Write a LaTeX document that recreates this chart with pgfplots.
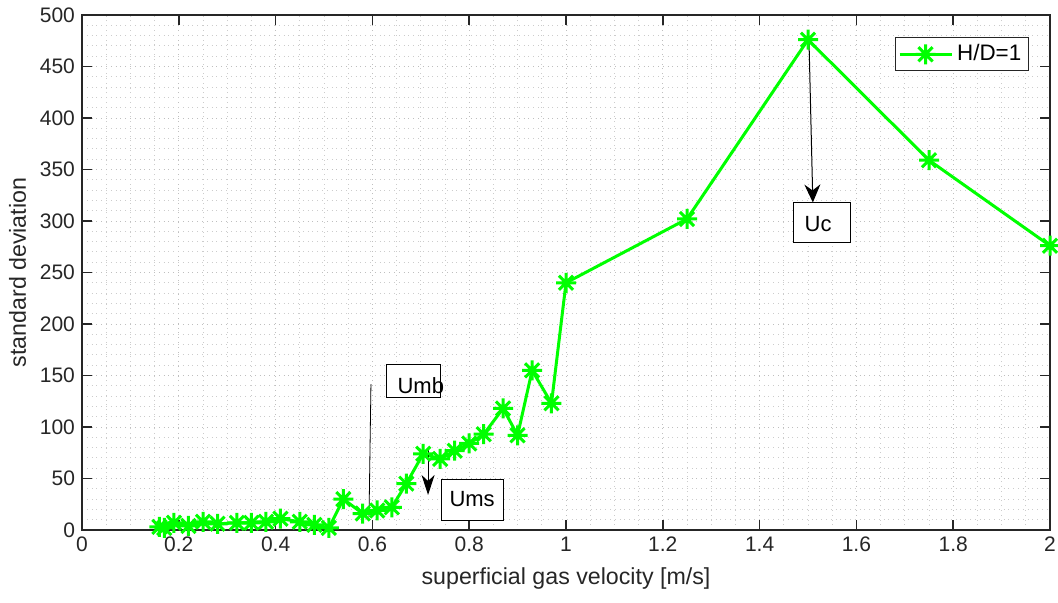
\documentclass[border=0pt]{standalone}
\usepackage{pgfplots}
\pgfplotsset{compat=1.18}
\usepackage{fontspec}
\setmainfont{Liberation Sans}
\usetikzlibrary{arrows.meta}
\definecolor{mgreen}{RGB}{0,255,0}
\definecolor{axgray}{RGB}{38,38,38}

% MATLAB-like asterisk: + and x together
\pgfdeclareplotmark{mstar}{%
  \pgfpathmoveto{\pgfqpoint{-\pgfplotmarksize}{0pt}}%
  \pgfpathlineto{\pgfqpoint{\pgfplotmarksize}{0pt}}%
  \pgfpathmoveto{\pgfqpoint{0pt}{-\pgfplotmarksize}}%
  \pgfpathlineto{\pgfqpoint{0pt}{\pgfplotmarksize}}%
  \pgfpathmoveto{\pgfqpoint{-0.707\pgfplotmarksize}{-0.707\pgfplotmarksize}}%
  \pgfpathlineto{\pgfqpoint{0.707\pgfplotmarksize}{0.707\pgfplotmarksize}}%
  \pgfpathmoveto{\pgfqpoint{-0.707\pgfplotmarksize}{0.707\pgfplotmarksize}}%
  \pgfpathlineto{\pgfqpoint{0.707\pgfplotmarksize}{-0.707\pgfplotmarksize}}%
  \pgfusepathqstroke}

\pgfplotstableread{
x y
0.16 3
0.17 2
0.19 7
0.22 4
0.25 8
0.28 6
0.32 7
0.35 7
0.38 8
0.41 11
0.45 8
0.48 5
0.51 2
0.54 30
0.58 16
0.61 19
0.64 22
0.67 45
0.705 74
0.74 69
0.77 77
0.80 84
0.83 93
0.87 118
0.90 92
0.93 155
0.97 123
1.00 240
1.25 302
1.50 476
1.75 359
2.00 276
}\sdtable

\begin{document}
\begin{tikzpicture}
\useasboundingbox (-41pt,-36pt) rectangle (488pt,265pt);
\begin{axis}[
    width=484pt, height=257.5pt, scale only axis,
    xmin=0, xmax=2, ymin=0, ymax=500,
    xtick={0,0.2,0.4,0.6,0.8,1,1.2,1.4,1.6,1.8,2},
    xticklabels={0,0.2,0.4,0.6,0.8,1,1.2,1.4,1.6,1.8,2},
    ytick={0,50,100,150,200,250,300,350,400,450,500},
    minor x tick num=3, minor y tick num=4,
    grid=both,
    major grid style={dotted, gray!50, line width=0.5pt},
    minor grid style={dotted, gray!40, line width=0.5pt},
    tick align=inside, major tick length=5pt, minor tick length=0pt,
    axis line style={axgray, line width=0.8pt},
    every tick/.style={axgray, line width=0.8pt},
    /pgf/number format/assume math mode=true,
    ticklabel style={font=\fontsize{10.5}{12}\selectfont, text=axgray},
    xlabel={superficial gas velocity [m/s]},
    ylabel={standard deviation},
    label style={font=\fontsize{11.6}{13}\selectfont, text=axgray},
    xlabel style={yshift=-1pt},
    legend style={at={(0.978,0.957)}, anchor=north east, draw=axgray, line width=0.5pt,
        font=\fontsize{11.2}{13}\selectfont, inner sep=1.5pt},
    legend image code/.code={\draw[mark repeat=2, mark phase=2, #1] plot coordinates {(0pt,0pt) (13pt,0pt) (26pt,0pt)};},
]
\addplot[mgreen, line width=1.5pt, mark=mstar, mark size=5pt, mark options={solid, line width=1.5pt}]
    table[x=x, y=y] {\sdtable};
\addlegendentry{H/D=1}

% annotations
\draw[black, line width=0.4pt] (0.597,141.7) -- (0.593,12.6);
\draw[black, line width=0.5pt, fill=white] (0.630,129) rectangle (0.740,161);
\node[font=\fontsize{11}{13}\selectfont] at (0.700,140) {Umb};

\draw[black, line width=0.5pt, -{Stealth[length=10pt, width=6.5pt, inset=3pt]}] (0.715,79.6) -- (0.715,34);
\draw[black, line width=0.5pt, fill=white] (0.742,9.7) rectangle (0.870,49.5);
\node[font=\fontsize{11}{13}\selectfont] at (0.806,30) {Ums};

\draw[black, line width=0.5pt, -{Stealth[length=9pt, width=8pt, inset=3pt]}] (1.502,475.7) -- (1.510,318);
\draw[black, line width=0.5pt, fill=white] (1.471,279.6) rectangle (1.587,317.5);
\node[font=\fontsize{11}{13}\selectfont] at (1.521,297) {Uc};
\end{axis}
\end{tikzpicture}
\end{document}
